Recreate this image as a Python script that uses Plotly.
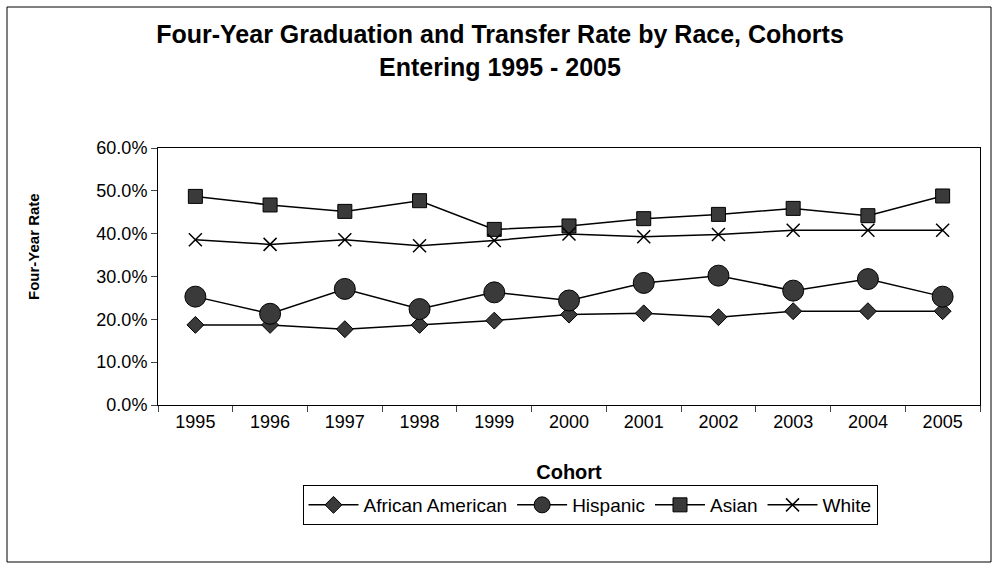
import plotly.graph_objects as go

cohorts = ["1995", "1996", "1997", "1998", "1999", "2000", "2001", "2002", "2003", "2004", "2005"]
african_american = [0.187, 0.187, 0.177, 0.187, 0.197, 0.211, 0.214, 0.205, 0.219, 0.219, 0.219]
hispanic = [0.253, 0.213, 0.271, 0.224, 0.263, 0.244, 0.285, 0.302, 0.267, 0.294, 0.253]
asian = [0.487, 0.467, 0.452, 0.477, 0.410, 0.418, 0.435, 0.445, 0.459, 0.442, 0.488]
white = [0.386, 0.375, 0.386, 0.372, 0.384, 0.399, 0.393, 0.398, 0.408, 0.408, 0.408]

FONT = "Arial, 'Liberation Sans', sans-serif"
fill = "#3a3a3a"

fig = go.Figure()
fig.add_trace(go.Scatter(x=cohorts, y=african_american, name="African American", mode="lines+markers",
                         line=dict(color="black", width=1.5),
                         marker=dict(symbol="diamond", size=13, color=fill, line=dict(color="black", width=1))))
fig.add_trace(go.Scatter(x=cohorts, y=hispanic, name="Hispanic", mode="lines+markers",
                         line=dict(color="black", width=1.5),
                         marker=dict(symbol="circle", size=21, color=fill, line=dict(color="black", width=1))))
fig.add_trace(go.Scatter(x=cohorts, y=asian, name="Asian", mode="lines+markers",
                         line=dict(color="black", width=1.5),
                         marker=dict(symbol="square", size=14, color=fill, line=dict(color="black", width=1))))
fig.add_trace(go.Scatter(x=cohorts, y=white, name="White", mode="lines+markers",
                         line=dict(color="black", width=1.5),
                         marker=dict(symbol="x-thin", size=13, color="black", line=dict(color="black", width=1.5))))

L, R, T, B = 158, 20, 148, 167
W, H = 1000, 572
pw, ph = W - L - R, H - T - B

def px_x(x):
    return (x - L) / pw

def px_y(y):
    return (H - B - y) / ph

fig.update_layout(
    width=W, height=H,
    margin=dict(l=L, r=R, t=T, b=B),
    paper_bgcolor="white", plot_bgcolor="white",
    font=dict(family=FONT, size=18, color="black"),
    title=dict(text="<b>Four-Year Graduation and Transfer Rate by Race, Cohorts<br>Entering 1995 - 2005</b>",
               x=0.5, xanchor="center", y=1 - 43 / H, yanchor="top",
               font=dict(family=FONT, size=25, color="black")),
    showlegend=True,
    legend=dict(orientation="h", x=px_x(590), xanchor="center", y=px_y(485), yanchor="top",
                bordercolor="black", borderwidth=1, bgcolor="white",
                font=dict(family=FONT, size=19, color="black"), itemwidth=50,
                tracegroupgap=0),
    shapes=[dict(type="rect", xref="paper", yref="paper",
                 x0=px_x(7), x1=px_x(991), y0=px_y(562), y1=px_y(7),
                 line=dict(color="black", width=1))],
    annotations=[dict(text="<b>Four-Year Rate</b>", textangle=-90, xref="paper", yref="paper",
                      x=px_x(33), y=px_y(247), xanchor="center", yanchor="middle", showarrow=False,
                      font=dict(family=FONT, size=15, color="black"))],
)
fig.update_xaxes(type="category", range=[-0.5, 10.5], tickson="boundaries", ticks="outside", ticklen=6,
                 showline=True, linecolor="black", linewidth=1, mirror=True, showgrid=False,
                 tickfont=dict(size=18), title=dict(text="<b>Cohort</b>", font=dict(size=20), standoff=34))
fig.update_yaxes(range=[0, 0.6], dtick=0.1, tickformat=".1%", ticks="outside", ticklen=6,
                 showline=True, linecolor="black", linewidth=1, mirror=True, showgrid=False, zeroline=False,
                 tickfont=dict(size=18))

fig.write_html("out.html", config={"displayModeBar": False},
               post_script="document.body.style.margin='0px';document.body.style.padding='0px';")
